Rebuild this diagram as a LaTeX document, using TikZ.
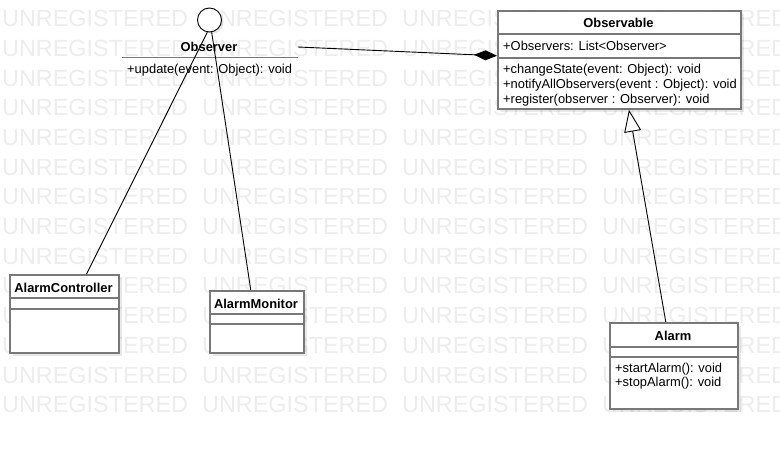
\documentclass[tikz,border=0pt]{standalone}
\usepackage{fontspec}
\setmainfont{Liberation Sans}
\usetikzlibrary{arrows.meta,calc,shadows}
\definecolor{wm}{RGB}{237,237,237}
\definecolor{boxline}{RGB}{120,120,120}
\begin{document}
\begin{tikzpicture}[x=1pt,y=-1pt,
  wmtext/.style={font=\fontsize{23.4}{28}\selectfont, text=wm, inner sep=0pt, anchor=mid west},
  classbox/.style={draw=boxline, line width=1.8pt, fill=white, inner sep=0pt, anchor=north west,
    drop shadow={shadow xshift=3pt, shadow yshift=-3pt, fill=black, opacity=0.09}},
  sepline/.style={draw=boxline, line width=1.8pt},
  title/.style={font=\bfseries\fontsize{12.9}{15}\selectfont, inner sep=0pt, anchor=mid},
  member/.style={font=\fontsize{12.9}{15}\selectfont, inner sep=0pt, anchor=mid west},
  conn/.style={draw=black, line width=0.9pt},
]
\useasboundingbox (0,0) rectangle (780,449);
\fill[white] (0,0) rectangle (780,449);
% watermark
\begin{scope}
\clip (0,0) rectangle (780,449);
\foreach \r in {0,...,13}{
  \foreach \c in {0,...,3}{
    \node[wmtext] (wm-\r-\c) at ({2+200*\c},{24+29.7*\r}) {UNREGISTERED};
  }
}
\end{scope}

% Observable
\node[classbox, minimum width=243pt, minimum height=98pt] (observable) at (497,10) {};
\draw[sepline] (497,34) -- (740,34);
\draw[sepline] (497,58) -- (740,58);
\node[title] (observableT) at (618.5,24.5) {Observable};
\node[member] (observableA) at (503,48) {+Observers: List<Observer>};
\node[member] (observableM1) at (503,71) {+changeState(event: Object): void};
\node[member] (observableM2) at (503,86) {+notifyAllObservers(event : Object): void};
\node[member] (observableM3) at (503,101) {+register(observer : Observer): void};

% Alarm
\node[classbox, minimum width=128pt, minimum height=86pt] (alarm) at (609,322) {};
\draw[sepline] (609,347) -- (737,347);
\draw[sepline] (609,357) -- (737,357);
\node[title] (alarmT) at (673,337.5) {Alarm};
\node[member] (alarmM1) at (615,370) {+startAlarm(): void};
\node[member] (alarmM2) at (615,384) {+stopAlarm(): void};

% AlarmController
\node[classbox, minimum width=109pt, minimum height=78pt] (ctrl) at (9,274) {};
\draw[sepline] (9,298) -- (118,298);
\draw[sepline] (9,309) -- (118,309);
\node[title] (ctrlT) at (63.5,289.5) {AlarmController};

% AlarmMonitor
\node[classbox, minimum width=94pt, minimum height=62pt] (mon) at (209,290) {};
\draw[sepline] (209,314) -- (303,314);
\draw[sepline] (209,324) -- (303,324);
\node[title] (monT) at (256,305.5) {AlarmMonitor};

% Observer interface (lollipop)
\node[circle, draw=black, line width=0.9pt, fill=white, minimum size=24pt, inner sep=0pt,
  drop shadow={shadow xshift=2pt, shadow yshift=-2pt, fill=black, opacity=0.09}] (obsc) at (209.5,20) {};
\node[title] (observerT) at (209,48.5) {Observer};
\draw[draw=boxline, line width=1.5pt] (122,57.5) -- (298,57.5);
\node[member] (observerM) at (127,71) {+update(event: Object): void};

% connectors
\draw[conn] (obsc.-100) -- ($(ctrl.north west)!0.7!(ctrl.north east)$);
\draw[conn] (obsc.-80) -- ($(mon.north west)!0.436!(mon.north east)$);
\coordinate (obsR) at (298,47);
\draw[conn, -{Diamond[length=23pt,width=10pt]}] (obsR) -- ($(observable.north west)!0.459!(observable.south west)$);
\draw[conn, -{Triangle[open, length=22pt, width=17pt, fill=white]}] ($(alarm.north west)!0.4375!(alarm.north east)$) -- ($(observable.south west)!0.539!(observable.south east)$);
\end{tikzpicture}
\end{document}
